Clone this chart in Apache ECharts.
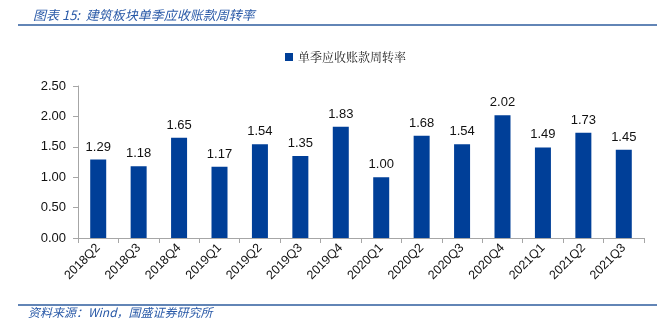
<!DOCTYPE html>
<html><head><meta charset="utf-8">
<script src="https://cdn.jsdelivr.net/npm/echarts@6/dist/echarts.min.js"></script>
<style>html,body{margin:0;padding:0;background:#fff}#c{width:657px;height:330px}</style>
</head><body><div id="c"></div>
<script>
const categories = ['2018Q2','2018Q3','2018Q4','2019Q1','2019Q2','2019Q3','2019Q4','2020Q1','2020Q2','2020Q3','2020Q4','2021Q1','2021Q2','2021Q3'];
const turnover = [1.29,1.18,1.65,1.17,1.54,1.35,1.83,1.00,1.68,1.54,2.02,1.49,1.73,1.45];
const seriesName = '单季应收账款周转率';
const yTicks = [0, 0.5, 1.0, 1.5, 2.0, 2.5];

const chart = echarts.init(document.getElementById('c'), null, {renderer:'canvas'});
chart.setOption({
  animation:false,
  title:{
    text:'图表 15:  建筑板块单季应收账款周转率',
    left:28, top:4,
    textStyle:{fontSize:13, fontStyle:'italic', fontWeight:'normal', color:'#2A5AA8', fontFamily:'Noto Sans CJK SC'}
  },
  graphic:[
    {type:'line', shape:{x1:18,y1:25,x2:657,y2:25}, style:{stroke:'#2E5C9E', lineWidth:1.5}},
    {type:'line', shape:{x1:18,y1:305,x2:657,y2:305}, style:{stroke:'#2E5C9E', lineWidth:1.5}},
    {type:'text', left:28, top:306, style:{text:'资料来源：Wind，国盛证券研究所', fontSize:12, fontStyle:'italic', fill:'#2A5AA8', fontFamily:'Noto Sans CJK SC'}}
  ],
  legend:{
    data:[seriesName], top:46, left:280,
    itemWidth:8, itemHeight:8, itemGap:4, icon:'rect',
    textStyle:{fontSize:12, color:'#222', fontFamily:'Noto Serif CJK SC, Noto Sans CJK SC'}
  },
  grid:{left:78, right:13, top:86, bottom:92},
  xAxis:{
    type:'category', data:categories,
    axisLine:{lineStyle:{color:'#A6A6A6'}},
    axisTick:{show:true, alignWithLabel:false, length:5, lineStyle:{color:'#A6A6A6'}},
    axisLabel:{rotate:45, fontSize:12.5, color:'#111', interval:0, margin:8, fontFamily:'Liberation Sans'}
  },
  yAxis:{
    type:'value', min:yTicks[0], max:yTicks[yTicks.length-1], interval:0.5,
    axisLine:{show:true, lineStyle:{color:'#A6A6A6'}},
    axisTick:{show:true, length:5, lineStyle:{color:'#A6A6A6'}},
    splitLine:{show:false},
    axisLabel:{fontSize:13, color:'#111', margin:12, fontFamily:'Liberation Sans', formatter:v=>v.toFixed(2)}
  },
  series:[{
    name:seriesName, type:'bar', data:turnover, barWidth:16,
    itemStyle:{color:'#003F98'},
    label:{show:true, position:'top', distance:6, fontSize:13, color:'#111', fontFamily:'Liberation Sans', formatter:p=>p.value.toFixed(2)}
  }]
});
</script></body></html>
